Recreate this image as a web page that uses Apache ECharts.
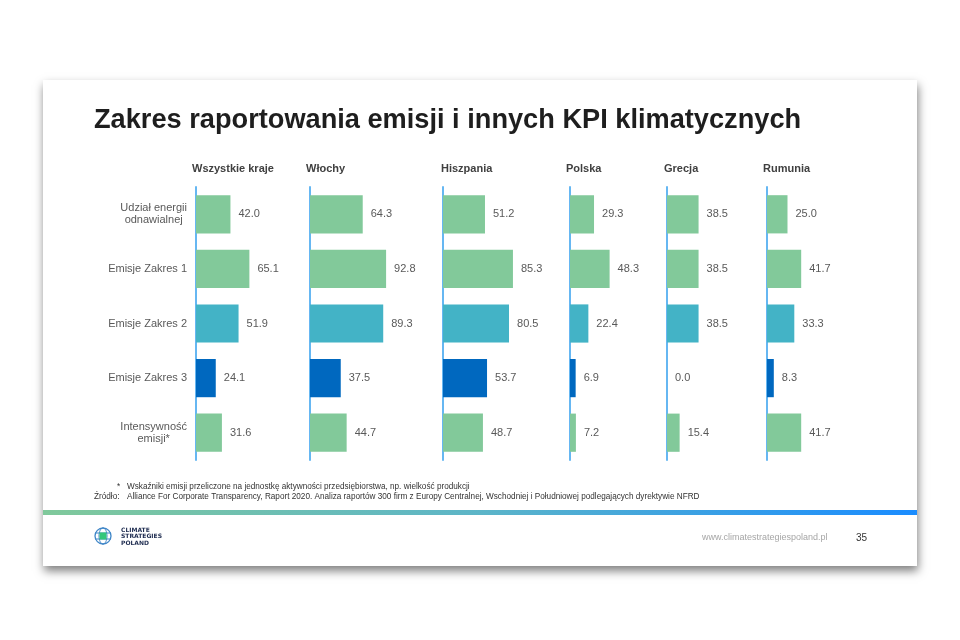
<!DOCTYPE html>
<html>
<head>
<meta charset="utf-8">
<script src="https://cdn.jsdelivr.net/npm/echarts@6/dist/echarts.min.js"></script>
<style>
  html, body { margin: 0; padding: 0; background: #fff; }
  #chart { width: 960px; height: 640px; }
</style>
</head>
<body>
<div id="chart"></div>
<script>
// kategorie (wiersze) i kraje (kolumny)
const categories = [
  "Udział energii\nodnawialnej",
  "Emisje Zakres 1",
  "Emisje Zakres 2",
  "Emisje Zakres 3",
  "Intensywność\nemisji*"
];
const countries = ["Wszystkie kraje", "Włochy", "Hiszpania", "Polska", "Grecja", "Rumunia"];

// odsetek firm raportujących (%)
const wszystkie = [42.0, 65.1, 51.9, 24.1, 31.6];
const wlochy = [64.3, 92.8, 89.3, 37.5, 44.7];
const hiszpania = [51.2, 85.3, 80.5, 53.7, 48.7];
const polska = [29.3, 48.3, 22.4, 6.9, 7.2];
const grecja = [38.5, 38.5, 38.5, 0.0, 15.4];
const rumunia = [25.0, 41.7, 33.3, 8.3, 41.7];
const values = [wszystkie, wlochy, hiszpania, polska, grecja, rumunia];

// layout
const axisX = [196, 310, 443, 570, 667, 767];
const headerX = [192, 306, 441, 566, 664, 763];
const rowColors = ["#82c99a", "#82c99a", "#43b3c6", "#0068bf", "#82c99a"];

const myChart = echarts.init(document.getElementById("chart"));

const grids = [];
const xAxes = [];
const yAxes = [];
const series = [];
const titles = [{
  text: "Zakres raportowania emisji i innych KPI klimatycznych",
  left: 94,
  top: 107,
  padding: 0,
  textStyle: { fontFamily: "Liberation Sans", fontSize: 27.2, fontWeight: "bold", color: "#1e1e1e" }
}];

countries.forEach((name, i) => {
  grids.push({ left: axisX[i], top: 187, width: 82, height: 273, outerBoundsMode: "none" });
  xAxes.push({ gridIndex: i, type: "value", min: 0, max: 100, show: false });
  yAxes.push({
    gridIndex: i,
    type: "category",
    data: categories,
    inverse: true,
    axisLine: { show: true, lineStyle: { color: "#66b7f2", width: 2 } },
    axisTick: { show: false },
    splitLine: { show: false },
    axisLabel: {
      show: i === 0,
      margin: 9,
      color: "#595959",
      fontFamily: "Liberation Sans",
      fontSize: 11,
      formatter: v => v.split("\n").map(s => "{c|" + s + "}").join("\n"),
      rich: {
        c: { align: "center", color: "#595959", fontFamily: "Liberation Sans", fontSize: 11, lineHeight: 12 }
      }
    }
  });
  series.push({
    name: name,
    type: "bar",
    xAxisIndex: i,
    yAxisIndex: i,
    barWidth: "70%",
    data: values[i].map((v, k) => ({ value: v, itemStyle: { color: rowColors[k] } })),
    label: {
      show: true,
      position: "right",
      distance: 8,
      color: "#595959",
      fontFamily: "Liberation Sans",
      fontSize: 11,
      formatter: p => p.value.toFixed(1)
    }
  });
  titles.push({
    text: name,
    left: headerX[i],
    top: 163,
    padding: 0,
    textStyle: { fontFamily: "Liberation Sans", fontSize: 11, fontWeight: "bold", color: "#404040", lineHeight: 12 }
  });
});

myChart.setOption({
  backgroundColor: "#fff",
  animation: false,
  title: titles,
  grid: grids,
  xAxis: xAxes,
  yAxis: yAxes,
  series: series,
  graphic: [
    // slajd z cieniem
    {
      type: "rect", z: -100, silent: true,
      shape: { x: 43, y: 80, width: 874, height: 486 },
      style: { fill: "#fff", shadowBlur: 9, shadowColor: "rgba(0,0,0,0.5)", shadowOffsetY: 5, shadowOffsetX: 1 }
    },
    // przypis
    { type: "text", left: 117, top: 483, style: { text: "*", fontFamily: "Liberation Sans", fontSize: 8.2, fill: "#333" } },
    { type: "text", left: 127, top: 483, style: { text: "Wskaźniki emisji przeliczone na jednostkę aktywności przedsiębiorstwa, np. wielkość produkcji", fontFamily: "Liberation Sans", fontSize: 8.2, fill: "#333" } },
    { type: "text", left: 94, top: 493, style: { text: "Źródło:", fontFamily: "Liberation Sans", fontSize: 8.2, fill: "#333" } },
    { type: "text", left: 127, top: 493, style: { text: "Alliance For Corporate Transparency, Raport 2020. Analiza raportów 300 firm z Europy Centralnej, Wschodniej i Południowej podlegających dyrektywie NFRD", fontFamily: "Liberation Sans", fontSize: 8.2, fill: "#333" } },
    // pasek gradientu
    {
      type: "rect", silent: true,
      shape: { x: 43, y: 510, width: 874, height: 5 },
      style: {
        fill: new echarts.graphic.LinearGradient(0, 0, 1, 0, [
          { offset: 0, color: "#80c99b" },
          { offset: 0.5, color: "#5cb5c8" },
          { offset: 1, color: "#1a8cff" }
        ])
      }
    },
    // logo
    { type: "circle", shape: { cx: 103, cy: 536, r: 8 }, style: { fill: "none", stroke: "#3f86c8", lineWidth: 1.3 } },
    { type: "ellipse", shape: { cx: 103, cy: 536, rx: 4, ry: 8 }, style: { fill: "none", stroke: "#3f86c8", lineWidth: 1 } },
    { type: "line", shape: { x1: 95, y1: 533, x2: 111, y2: 533 }, style: { stroke: "#3f86c8", lineWidth: 1 } },
    { type: "line", shape: { x1: 95, y1: 539, x2: 111, y2: 539 }, style: { stroke: "#3f86c8", lineWidth: 1 } },
    { type: "rect", shape: { x: 99.5, y: 532.5, width: 7, height: 7 }, style: { fill: "#34c77b" } },
    { type: "text", left: 121, top: 527, style: { text: "CLIMATE\nSTRATEGIES\nPOLAND", fontFamily: "DejaVu Sans", fontWeight: "bold", fontSize: 6, lineHeight: 6.5, fill: "#1d2b4f" } },
    // stopka
    { type: "text", left: 702, top: 533, style: { text: "www.climatestrategiespoland.pl", fontFamily: "Liberation Sans", fontSize: 9, fill: "#a6a6a6" } },
    { type: "text", left: 856, top: 533, style: { text: "35", fontFamily: "Liberation Sans", fontSize: 10, fill: "#333" } }
  ]
});
</script>
</body>
</html>
